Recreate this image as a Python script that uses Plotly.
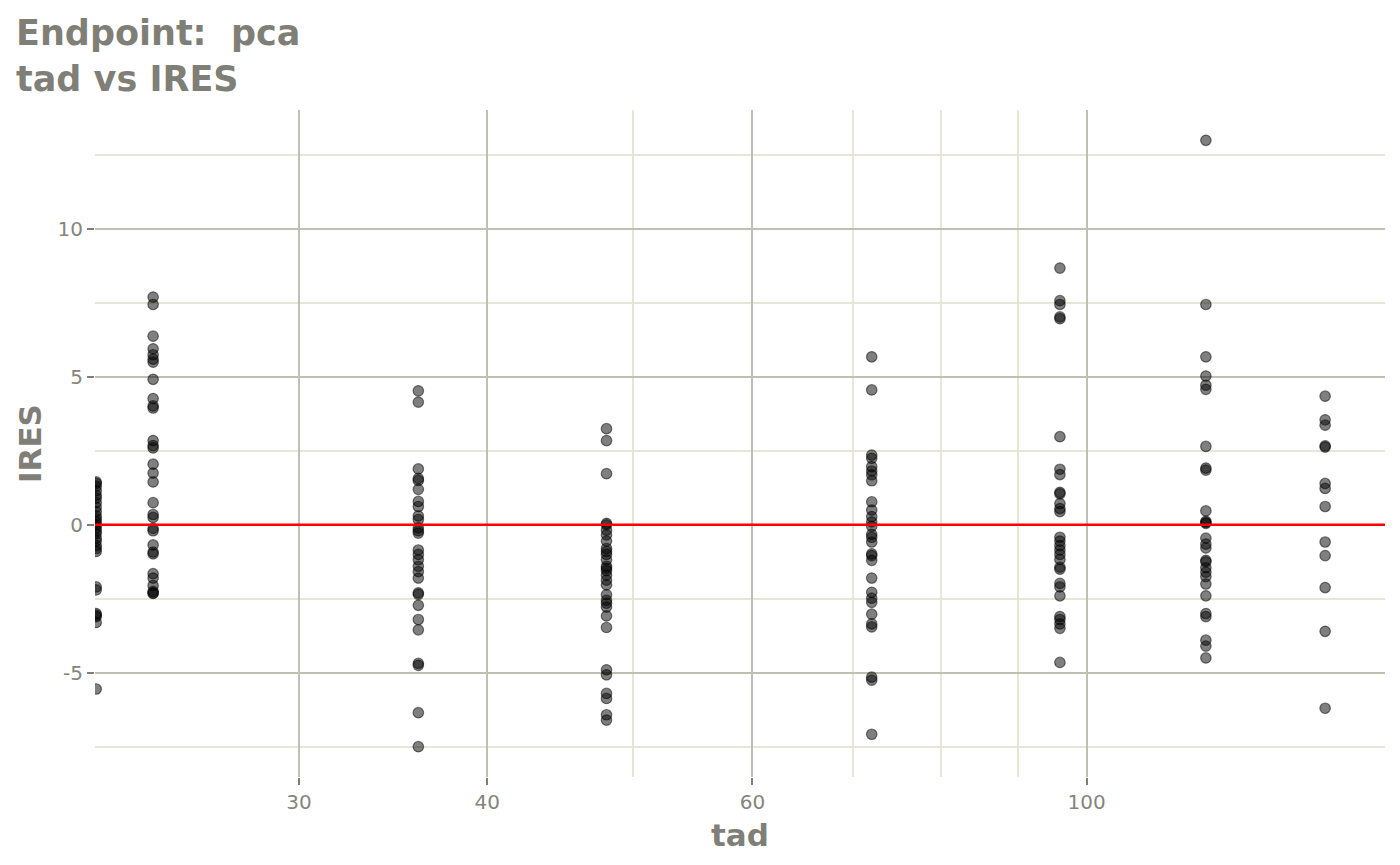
import math
import plotly.graph_objects as go

# ---- data ----
times = [22, 24, 36, 48, 72, 96, 120, 144]

ires_22 = [1.45, 1.4, 1.3, 1.15, 1.0, 0.9, 0.75, 0.6, 0.45, 0.3, 0.2, 0.1, 0.0, -0.1,
           -0.2, -0.3, -0.45, -0.55, -0.7, -0.8, -0.9, -2.1, -2.2, -3.0, -3.05, -3.1,
           -3.3, -5.55]
ires_24 = [7.7, 7.45, 6.38, 5.95, 5.75, 5.6, 5.5, 4.92, 4.27, 4.02, 3.95, 2.85, 2.68,
           2.6, 2.05, 1.75, 1.45, 0.75, 0.35, 0.25, -0.12, -0.2, -0.68, -0.92, -0.98,
           -1.65, -1.8, -2.05, -2.25, -2.3, -2.32]
ires_36 = [4.53, 4.15, 1.89, 1.57, 1.5, 1.2, 0.79, 0.62, 0.3, 0.18, -0.1, -0.2, -0.28,
           -0.85, -1.0, -1.18, -1.4, -1.58, -1.8, -2.3, -2.35, -2.72, -3.2, -3.55,
           -4.68, -4.75, -6.35, -7.5]
ires_48 = [3.25, 2.85, 1.73, 0.05, 0.0, -0.18, -0.34, -0.55, -0.8, -0.9, -1.0, -1.18,
           -1.4, -1.47, -1.55, -1.7, -1.87, -2.03, -2.36, -2.55, -2.65, -2.78, -3.08,
           -3.47, -4.9, -5.07, -5.7, -5.87, -6.42, -6.6]
ires_72 = [5.68, 4.56, 2.36, 2.25, 1.97, 1.82, 1.69, 1.49, 0.78, 0.5, 0.28, 0.1, -0.05,
           -0.32, -0.42, -0.58, -0.98, -1.04, -1.2, -1.8, -2.28, -2.48, -2.62, -3.02,
           -3.35, -3.45, -5.15, -5.25, -7.08]
ires_96 = [8.68, 7.58, 7.45, 7.03, 6.97, 2.98, 1.88, 1.7, 1.1, 1.05, 0.72, 0.55, 0.45,
           -0.42, -0.55, -0.7, -0.85, -1.0, -1.17, -1.43, -1.5, -1.98, -2.1, -2.4,
           -3.1, -3.2, -3.35, -3.5, -4.65]
ires_120 = [13.0, 7.45, 5.68, 5.03, 4.72, 4.58, 2.65, 1.92, 1.85, 0.47, 0.12, 0.08,
            0.05, -0.45, -0.65, -0.78, -1.2, -1.25, -1.45, -1.6, -1.75, -2.0, -2.4,
            -3.0, -3.1, -3.9, -4.1, -4.5]
ires_144 = [4.35, 3.55, 3.37, 2.67, 2.63, 1.4, 1.23, 0.62, -0.58, -1.04, -2.12, -3.6,
            -6.2]

x_major_ticks = [30, 40, 60, 100]
x_tick_labels = ["30", "40", "60", "100"]
x_minor_ticks = [50, 70, 80, 90]
y_major_ticks = [-5, 0, 5, 10]
y_tick_labels = ["-5", "0", "5", "10"]
y_minor_ticks = [-7.5, -2.5, 2.5, 7.5, 12.5]

columns = [ires_22, ires_24, ires_36, ires_48, ires_72, ires_96, ires_120, ires_144]

xs, ys = [], []
for t, vals in zip(times, columns):
    xs += [t] * len(vals)
    ys += vals

TXT = "#7f7f77"
TICK_TXT = "#85857d"
MAJOR = "#bfbfb3"
MINOR = "#e7e7d8"
FONT = "DejaVu Sans"

fig = go.Figure(
    go.Scatter(
        x=xs, y=ys, mode="markers", cliponaxis=True,
        marker=dict(size=10.5, color="rgba(0,0,0,0.5)",
                    line=dict(width=1.2, color="rgba(0,0,0,0.5)")),
        hoverinfo="x+y",
    )
)
fig.add_hline(y=0, line=dict(color="#ff0000", width=2.5))

fig.update_layout(
    width=1400, height=865,
    margin=dict(l=95, r=15, t=110, b=88),
    plot_bgcolor="white", paper_bgcolor="white",
    showlegend=False,
    font=dict(family=FONT, color=TXT),
    title=dict(
        text="Endpoint:\u00a0\u00a0pca<br>tad vs IRES",
        x=16 / 1400, xanchor="left", xref="container",
        y=1 - 45 / 865, yanchor="top", yref="container",
        font=dict(family=FONT, size=35, color=TXT, weight="bold"),
    ),
)

fig.update_xaxes(
    type="log",
    range=[math.log10(21.96), math.log10(157.8)],
    tickmode="array", tickvals=x_major_ticks, ticktext=x_tick_labels,
    showgrid=True, gridcolor=MAJOR, gridwidth=2,
    minor=dict(tickmode="array", tickvals=x_minor_ticks, showgrid=True,
               gridcolor=MINOR, gridwidth=2, ticks=""),
    ticks="outside", ticklen=7, tickwidth=2, tickcolor=TXT,
    tickfont=dict(family=FONT, size=20, color=TICK_TXT),
    zeroline=False, showline=False,
    title=dict(text="tad", standoff=11,
               font=dict(family=FONT, size=31, color=TXT, weight="bold")),
)
fig.update_yaxes(
    range=[-8.525, 14.025],
    tickmode="array", tickvals=y_major_ticks, ticktext=y_tick_labels,
    showgrid=True, gridcolor=MAJOR, gridwidth=2,
    minor=dict(tickmode="array", tickvals=y_minor_ticks, showgrid=True,
               gridcolor=MINOR, gridwidth=2, ticks=""),
    ticks="outside", ticklen=7, tickwidth=2, tickcolor=TXT,
    tickfont=dict(family=FONT, size=20, color=TICK_TXT),
    zeroline=False, showline=False,
    title=dict(text="IRES", standoff=6,
               font=dict(family=FONT, size=31, color=TXT, weight="bold")),
)

fig.write_html("out.html", config={"displayModeBar": False},
               post_script="document.body.style.margin='0';")
